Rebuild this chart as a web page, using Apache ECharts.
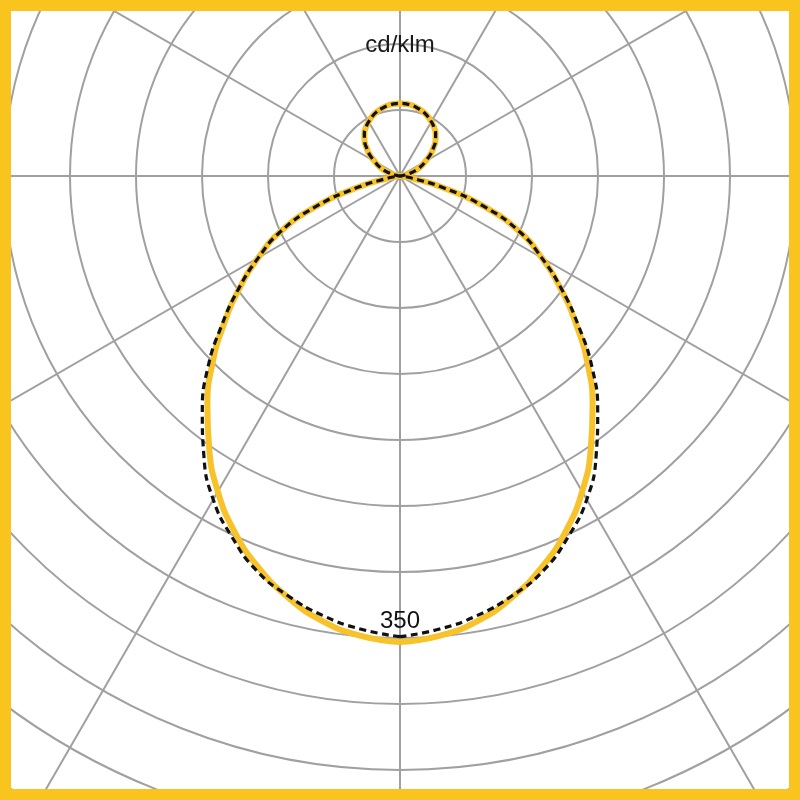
<!DOCTYPE html>
<html>
<head>
<meta charset="utf-8">
<script src="https://cdn.jsdelivr.net/npm/echarts@6/dist/echarts.min.js"></script>
<style>
html,body{margin:0;padding:0;background:#fff;}
#chart{width:800px;height:800px;}
</style>
</head>
<body>
<div id="chart"></div>
<script>
// Gamma angles (degrees from nadir), one half of each C-plane (mirrored on the other side)
var gammaAngles = [0,5,10,15,20,25,30,35,40,45,50,55,60,65,70,75,80,85,90,
                   95,100,105,110,115,120,125,130,135,140,145,150,155,160,165,170,175,180];
// Luminous intensity, cd/klm
var planeA = [353,349.5,342,330,315,297,276,252,227,201,174,148.5,124,100,68,33,9,2,0,
              1,4,8,13,18,22,28,33,38,42,45,47.5,49.8,51.7,53,54.2,54.8,55];
var planeB = [349,344.5,338,329,318,301.5,283,259,233,206,176.5,149.5,124,100,68,33,9,2,0,
              1,4,8,13,18,22,28,33,38,42,45,47.5,49.8,51.7,53,54.2,54.8,55];
var unitLabel = 'cd/klm';
var ringLabels = [350];

function fullCurve(vals){
  var out = [];
  for (var i = 0; i < gammaAngles.length; i++) out.push([vals[i], gammaAngles[i]]);
  for (var j = gammaAngles.length - 2; j >= 0; j--) out.push([vals[j], 360 - gammaAngles[j]]);
  return out;
}

var chart = echarts.init(document.getElementById('chart'), null, {renderer:'canvas'});
var grid = '#a0a0a0';
var yellow = '#F7C22A';
chart.setOption({
  animation: false,
  backgroundColor: '#ffffff',
  title: {
    text: unitLabel, left: 'center', top: 33, padding: 0,
    textStyle: {fontFamily: 'Liberation Sans', fontSize: 24, fontWeight: 'normal', color: '#1a1a1a'}
  },
  polar: {center: [400, 176], radius: 792},
  angleAxis: {
    type: 'value', min: 0, max: 360, interval: 30, startAngle: 270, clockwise: true,
    axisLine: {show: false}, axisTick: {show: false}, axisLabel: {show: false},
    splitLine: {show: true, lineStyle: {color: grid, width: 2}}
  },
  radiusAxis: {
    type: 'value', min: 0, max: 600, interval: 50,
    axisLine: {show: false}, axisTick: {show: false}, axisLabel: {show: false},
    splitLine: {show: true, lineStyle: {color: grid, width: 2}}
  },
  graphic: [{
    type: 'rect', z: 100, silent: true,
    shape: {x: 5.5, y: 5.5, width: 789, height: 789},
    style: {fill: 'none', stroke: '#F9C41E', lineWidth: 11}
  }],
  series: [
    {
      type: 'line', coordinateSystem: 'polar', data: fullCurve(planeA),
      symbol: 'none', smooth: 0.5, z: 3,
      lineStyle: {color: yellow, width: 6}
    },
    {
      type: 'line', coordinateSystem: 'polar', data: fullCurve(planeB),
      symbol: 'none', smooth: 0.5, z: 4,
      lineStyle: {color: '#111111', width: 3.2, type: [7, 4.5]}
    },
    {
      type: 'scatter', coordinateSystem: 'polar', z: 5,
      data: ringLabels.map(function(v){ return [v, 0]; }),
      symbolSize: 0, silent: true,
      itemStyle: {opacity: 1},
      label: {
        show: true, position: 'top', distance: 5,
        formatter: function(p){ return String(p.value[0]); },
        fontFamily: 'Liberation Sans', fontSize: 24, color: '#111111', opacity: 1
      }
    }
  ]
});
</script>
</body>
</html>
